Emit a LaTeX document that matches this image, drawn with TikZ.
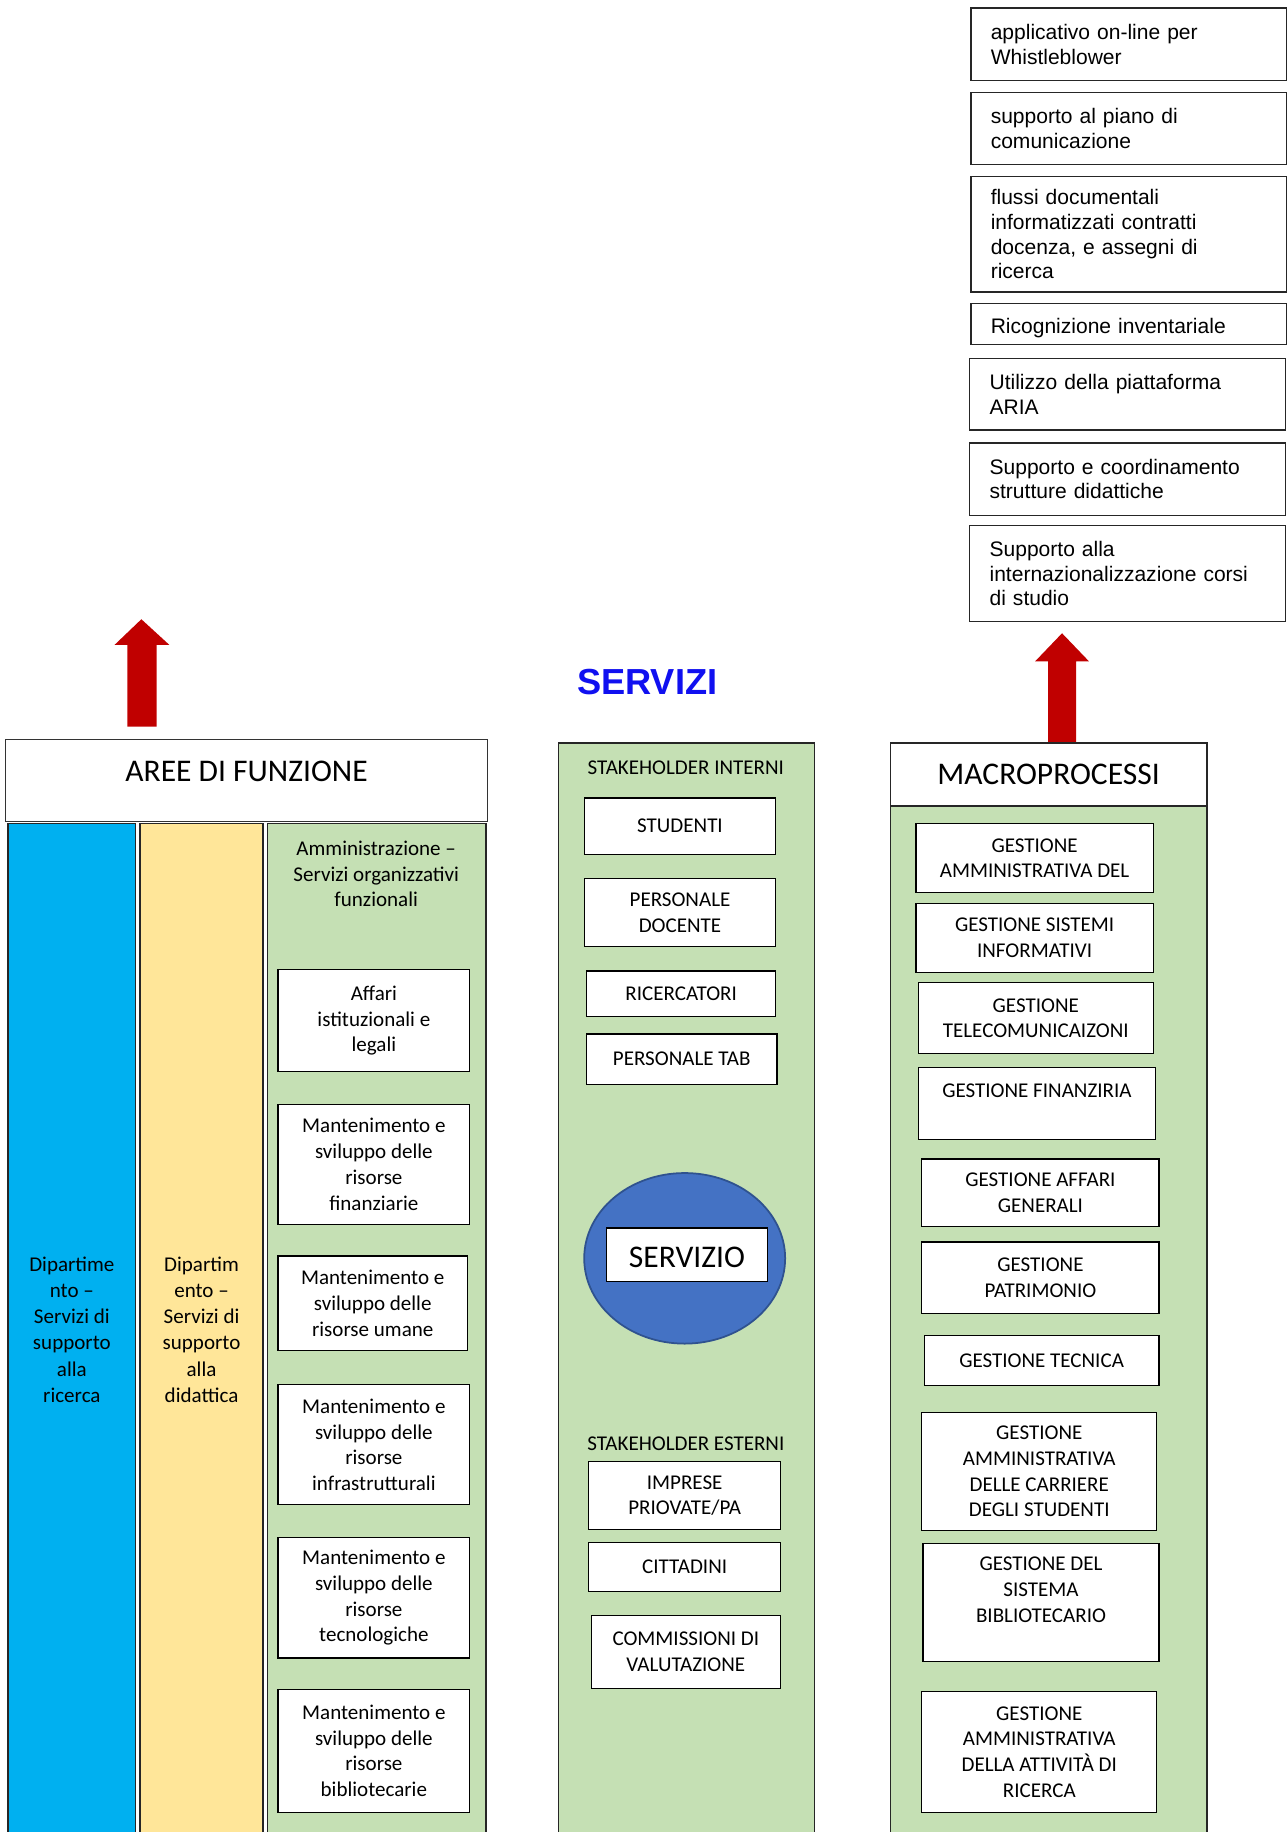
\documentclass[tikz,border=0pt]{standalone}
\usepackage{fontspec}
\setmainfont{Carlito}
\newfontfamily\arialfont{Liberation Sans}
\usetikzlibrary{shapes.geometric}
\definecolor{colblue}{HTML}{00B0F0}
\definecolor{colyellow}{HTML}{FFE699}
\definecolor{colgreen}{HTML}{C5E0B4}
\definecolor{arrred}{HTML}{C00000}
\definecolor{ellblue}{HTML}{4472C4}
\definecolor{ellline}{HTML}{2F528F}
\definecolor{titleblue}{HTML}{1010F0}
\begin{document}
\begin{tikzpicture}[x=1pt,y=-1pt,
box/.style={draw=black,fill=white,line width=1pt,inner sep=0pt,align=center,font=\fontsize{18}{22}\selectfont},
col/.style={draw=black!85,line width=1.3pt,inner sep=0pt,align=center,font=\fontsize{18}{22.4}\selectfont},
wbox/.style={draw=black!85,fill=white,line width=1.2pt,inner xsep=17pt,inner ysep=0pt,text width=236pt,align=left,font=\arialfont\fontsize{18}{21}\selectfont},
txt/.style={inner sep=0pt,align=center,font=\fontsize{18}{22}\selectfont},
big/.style={font=\fontsize{27}{32}\selectfont},
redarrow/.style={fill=arrred}]
\useasboundingbox (0,0) rectangle (1102,1568);

% top right list
\node[wbox,minimum height=62pt] (w1) at (966,38) {applicativo on-line per\\Whistleblower};
\node[wbox,minimum height=62pt] (w2) at (966,110) {supporto al piano di\\comunicazione};
\node[wbox,minimum height=99pt] (w3) at (966,200.5) {flussi documentali\\informatizzati contratti\\docenza, e assegni di\\ricerca};
\node[wbox,minimum height=35pt,text height=19pt] (w4) at (966,277.5) {Ricognizione inventariale};
\node[wbox,minimum height=61pt] (w5) at (965,337.5) {Utilizzo della piattaforma\\ARIA};
\node[wbox,minimum height=62pt] (w6) at (965,410) {Supporto e coordinamento\\strutture didattiche};
\node[wbox,minimum height=82pt] (w7) at (965,491) {Supporto alla\\internazionalizzazione corsi\\di studio};

% arrows
\fill[redarrow] (109,622) -- (109,552) -- (98,552) -- (121,530) -- (145,552) -- (134,552) -- (134,622) -- cycle;
\fill[redarrow] (897,635) -- (897,566) -- (886,566) -- (909,542) -- (932,566) -- (921,566) -- (921,635) -- cycle;

\node[inner sep=0pt,text=titleblue,font=\arialfont\bfseries\fontsize{31}{36}\selectfont] (servizi) at (554,584) {SERVIZI};

% aree di funzione
\node[box,draw=black!80,minimum width=412pt,minimum height=70pt] (aree) at (211,668) {};
\node[txt,big] (areeT) at (211,660) {AREE DI FUNZIONE};
\node[col,fill=colblue,minimum width=109pt,minimum height=866pt] (dr) at (61.5,1138) {Dipartime\\nto –\\Servizi di\\supporto\\alla\\ricerca};
\node[col,fill=colyellow,minimum width=105pt,minimum height=866pt] (dd) at (172.5,1138) {Dipartim\\ento –\\Servizi di\\supporto\\alla\\didattica};
\node[col,fill=colgreen,minimum width=187pt,minimum height=866pt] (amm) at (322.5,1138) {};
\node[txt] (ammT) at (322,748) {Amministrazione –\\Servizi organizzativi\\funzionali};
\node[box,minimum width=164pt,minimum height=87pt] (a1) at (320,873.5) {Affari\\istituzionali e\\legali};
\node[box,minimum width=164pt,minimum height=103pt] (a2) at (320,996.5) {Mantenimento e\\sviluppo delle\\risorse\\finanziarie};
\node[box,minimum width=162pt,minimum height=81pt] (a3) at (319,1115.5) {Mantenimento e\\sviluppo delle\\risorse umane};
\node[box,minimum width=164pt,minimum height=103pt] (a4) at (320,1236.5) {Mantenimento e\\sviluppo delle\\risorse\\infrastrutturali};
\node[box,minimum width=164pt,minimum height=103pt] (a5) at (320,1367.5) {Mantenimento e\\sviluppo delle\\risorse\\tecnologiche};
\node[box,minimum width=164pt,minimum height=105pt] (a6) at (320,1498.5) {Mantenimento e\\sviluppo delle\\risorse\\bibliotecarie};

% stakeholder
\node[col,fill=colgreen,minimum width=219pt,minimum height=935pt] (stake) at (587.5,1103.5) {};
\node[txt] (intT) at (587,657) {STAKEHOLDER INTERNI};
\node[box,minimum width=164pt,minimum height=48pt] (s1) at (582,707) {STUDENTI};
\node[box,minimum width=164pt,minimum height=58pt] (s2) at (582,781) {PERSONALE\\DOCENTE};
\node[box,minimum width=162pt,minimum height=39pt] (s3) at (583,850.5) {RICERCATORI};
\node[box,minimum width=163pt,minimum height=43pt] (s4) at (583.5,906.5) {PERSONALE TAB};
\node[ellipse,draw=ellline,line width=1.5pt,fill=ellblue,minimum width=172pt,minimum height=146pt,inner sep=0pt] (ell) at (586,1077) {};
\node[box,big,minimum width=138pt,minimum height=46pt,text height=22pt] (srv) at (588,1074) {SERVIZIO};
\node[txt] (estT) at (587,1236) {STAKEHOLDER ESTERNI};
\node[box,minimum width=164pt,minimum height=58pt] (e1) at (586,1280) {IMPRESE\\PRIOVATE/PA};
\node[box,minimum width=164pt,minimum height=42pt] (e2) at (586,1341) {CITTADINI};
\node[box,minimum width=162pt,minimum height=62pt] (e3) at (587,1414) {COMMISSIONI DI\\VALUTAZIONE};

% macroprocessi
\node[col,fill=colgreen,minimum width=271pt,minimum height=935pt] (mc) at (897.5,1103.5) {};
\node[box,big,draw=black!85,line width=1.3pt,minimum width=271pt,minimum height=54pt] (macro) at (897.5,663) {MACROPROCESSI};
\node[box,minimum width=203pt,minimum height=59pt] (m1) at (885.5,734.5) {GESTIONE\\AMMINISTRATIVA DEL};
\node[box,minimum width=203pt,minimum height=59pt] (m2) at (885.5,802.5) {GESTIONE SISTEMI\\INFORMATIVI};
\node[box,minimum width=201pt,minimum height=61pt] (m3) at (886.5,871.5) {GESTIONE\\TELECOMUNICAIZONI};
\node[box,minimum width=203pt,minimum height=61pt] (m4) at (887.5,944.5) {GESTIONE FINANZIRIA\\~};
\node[box,minimum width=203pt,minimum height=58pt] (m5) at (890.5,1021) {GESTIONE AFFARI\\GENERALI};
\node[box,minimum width=203pt,minimum height=61pt] (m6) at (890.5,1093.5) {GESTIONE\\PATRIMONIO};
\node[box,minimum width=201pt,minimum height=43pt] (m7) at (891.5,1164.5) {GESTIONE TECNICA};
\node[box,minimum width=201pt,minimum height=101pt] (m8) at (889.5,1259.5) {GESTIONE\\AMMINISTRATIVA\\DELLE CARRIERE\\DEGLI STUDENTI};
\node[box,minimum width=202pt,minimum height=101pt] (m9) at (891,1371.5) {GESTIONE DEL\\SISTEMA\\BIBLIOTECARIO\\~};
\node[box,minimum width=201pt,minimum height=103pt] (m10) at (889.5,1499.5) {GESTIONE\\AMMINISTRATIVA\\DELLA ATTIVITÀ DI\\RICERCA};
\end{tikzpicture}
\end{document}
